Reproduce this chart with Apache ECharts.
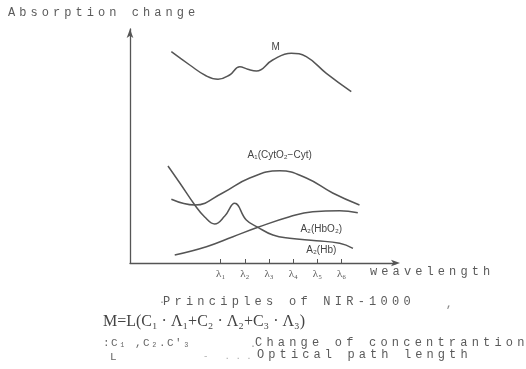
<!DOCTYPE html>
<html>
<head>
<meta charset="utf-8">
<script src="https://cdn.jsdelivr.net/npm/echarts@6/dist/echarts.min.js"></script>
<style>html,body{margin:0;padding:0;background:#fff}#c{width:526px;height:369px}</style>
</head>
<body>
<div id="c"></div>
<script>
// wavelength positions (in λ index units) and relative absorption values
const tickValues = [1, 2, 3, 4, 5, 6];
const tickLabels = ['λ₁', 'λ₂', 'λ₃', 'λ₄', 'λ₅', 'λ₆'];

const curveM = [[-1.04,211.3],[-0.28,198],[0.41,187],[0.89,183.7],[1.37,188],[1.79,196.3],[2.12,193.7],[2.48,192],[3.15,203],[3.92,209.7],[4.54,206.3],[5.37,189.7],[6.40,171.3]];
const curveA1 = [[-1.04,63.7],[-0.07,58],[1.08,70],[2.20,85],[3.44,92.3],[4.54,85],[5.63,70],[6.74,58]];
const curveHbO2 = [[-0.90,8],[0.41,16.3],[1.51,26.3],[2.54,35.7],[3.85,46.3],[4.81,51.3],[5.92,52.3],[6.67,50.3]];
const curveHb = [[-1.18,97],[-0.69,80],[-0.07,58],[0.34,46],[0.75,39],[1.17,47],[1.58,59.7],[2.06,43],[2.54,35.7],[3.16,28],[3.85,24.7],[4.95,22.3],[5.92,19.7],[6.47,14.7]];

const seriesNames = ['M', 'A₁(CytO₂−Cyt)', 'A₂(HbO₂)', 'A₂(Hb)'];

const lineColor = '#555';
const txtColor = '#5a5a5a';
const mono = '"Liberation Mono", "DejaVu Sans Mono", monospace';

// build rich text with wide letter spacing (typewriter style)
function spacedText(s, pitch, size){
  const adv = size * 0.6;
  const gapSize = Math.max(1, (pitch - adv) / 0.6);
  const parts = s.split('').map(ch => '{c|' + ch + '}');
  return {
    text: parts.join('{g| }'),
    rich: {
      c: {font: size + 'px ' + mono, fill: txtColor},
      g: {font: gapSize.toFixed(2) + 'px ' + mono, fill: txtColor}
    }
  };
}

function typeText(x, cy, s, pitch, size, color){
  const t = spacedText(s, pitch, size || 12);
  if (color) { t.rich.c.fill = color; }
  return {type: 'text', x: x, y: cy, style: Object.assign({verticalAlign: 'middle', align: 'left'}, t)};
}

function mkSeries(name, data, lblCoord){
  return {
    name: name, type: 'line', data: data, smooth: 0.45, symbol: 'none',
    lineStyle: {color: lineColor, width: 1.5},
    silent: true,
    markPoint: {
      symbol: 'circle', symbolSize: 0,
      label: {show: true, formatter: name, color: '#444', fontSize: 10,
              fontFamily: '"Liberation Sans", Arial, sans-serif', position: 'inside'},
      data: [{coord: lblCoord}]
    }
  };
}

const chart = echarts.init(document.getElementById('c'), null, {renderer: 'canvas'});
chart.setOption({
  animation: false,
  backgroundColor: '#fff',
  grid: {left: 130, right: 130, top: 29, bottom: 106},
  xAxis: {
    type: 'value', min: -2.75, max: 8.25,
    axisLine: {show: true, symbol: ['none', 'arrow'], symbolSize: [5, 9], symbolOffset: [0, 4],
               lineStyle: {color: '#555', width: 1.3}},
    axisTick: {show: true, inside: true, length: 4, customValues: tickValues, lineStyle: {color: '#555'}},
    axisLabel: {show: true, customValues: tickValues, margin: 6, color: '#555', fontSize: 11,
                fontFamily: '"Liberation Serif", serif',
                formatter: v => tickLabels[tickValues.indexOf(Math.round(v))] || ''},
    splitLine: {show: false}
  },
  yAxis: {
    type: 'value', min: 0, max: 234,
    axisLine: {show: true, onZero: false, symbol: ['none', 'arrow'], symbolSize: [5, 9],
               lineStyle: {color: '#555', width: 1.3}},
    axisTick: {show: false}, axisLabel: {show: false}, splitLine: {show: false}
  },
  series: [
    mkSeries(seriesNames[0], curveM, [3.27, 216]),
    mkSeries(seriesNames[1], curveA1, [3.44, 108]),
    mkSeries(seriesNames[2], curveHbO2, [5.16, 34]),
    mkSeries(seriesNames[3], curveHb, [5.16, 13])
  ],
  graphic: [
    typeText(8, 13, 'Absorption change', 11.25, 12),
    typeText(370, 272, 'weavelength', 11.3, 12),
    {type: 'text', x: 159, y: 302, style: {text: '·', font: '10px ' + mono, fill: '#888', verticalAlign: 'middle'}},
    typeText(163, 302, 'Principles of NIR-1000', 11.45, 12),
    {type: 'text', x: 446, y: 299, style: {text: ',', font: 'bold 10px ' + mono, fill: '#888'}},
    {type: 'text', x: 103, y: 322, style: {text: 'M=L(C₁ · Λ₁+C₂ · Λ₂+C₃ · Λ₃)', font: '16px "Liberation Serif", serif', fill: '#444', verticalAlign: 'middle'}},
    typeText(103, 343, ':C₁ ,C₂.C\'₃', 8, 11, '#666'),
    {type: 'text', x: 250, y: 344, style: {text: '.', font: '10px ' + mono, fill: '#999', verticalAlign: 'middle'}},
    typeText(255, 343, 'Change of concentrantion', 11.4, 12),
    typeText(110, 357, 'L', 8, 11, '#666'),
    {type: 'text', x: 203, y: 357, style: {text: '-   . . .', font: '9px ' + mono, fill: '#aaa', verticalAlign: 'middle'}},
    typeText(257, 355, 'Optical path length', 11.3, 12)
  ]
});
</script>
</body>
</html>
